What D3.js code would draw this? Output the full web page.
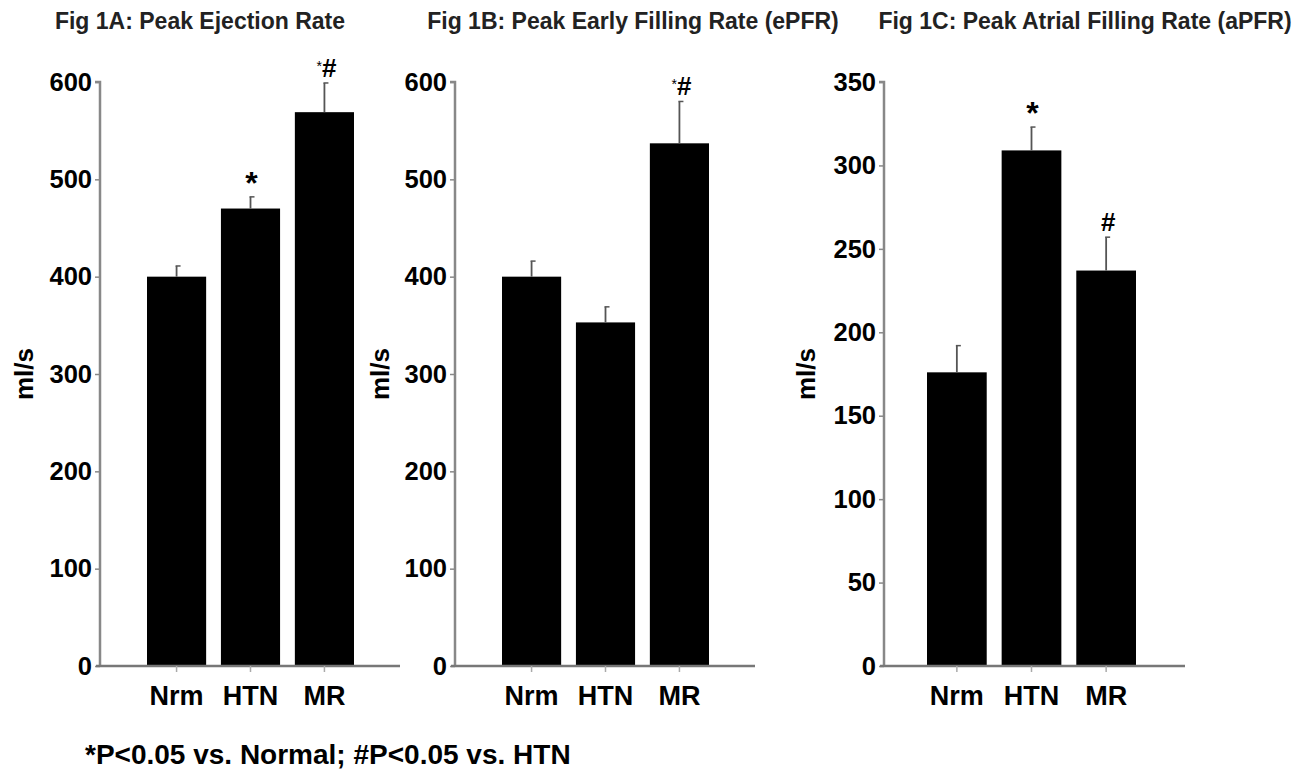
<!DOCTYPE html>
<html>
<head>
<style>
  body { margin: 0; background: #fff; }
  text { font-family: "Liberation Sans", Arial, sans-serif; font-weight: bold; }
</style>
</head>
<body>
<script src="https://d3js.org/d3.v7.min.js"></script>
<script>

const groups = ['Nrm', 'HTN', 'MR'];

const titles = [
  'Fig 1A: Peak Ejection Rate',
  'Fig 1B: Peak Early Filling Rate (ePFR)',
  'Fig 1C: Peak Atrial Filling Rate (aPFR)'
];

const means = [
  [400, 470, 569],
  [400, 353, 537],
  [176, 309, 237]
];

const errTops = [
  [411, 482, 599],
  [416, 369, 580],
  [192, 323, 257]
];

// significance marks above each bar
const stars = [
  ['', '*', '*'],
  ['', '', '*'],
  ['', '*', '']
];
const hashes = [
  ['', '', '#'],
  ['', '', '#'],
  ['', '', '#']
];

const yMax = [600, 600, 350];
const yTicks = [
  [0, 100, 200, 300, 400, 500, 600],
  [0, 100, 200, 300, 400, 500, 600],
  [0, 50, 100, 150, 200, 250, 300, 350]
];

const width = 1300;
const height = 769;

const svg = d3.select('body')
              .append('svg')
              .attr('width', width)
              .attr('height', height);

// panel layout
const panels = [
  { ax: 100, x0: 147, x1: 354, xEnd: 400, titleX: 200, labelX: 24 },
  { ax: 455, x0: 502, x1: 709, xEnd: 755, titleX: 633, labelX: 380 },
  { ax: 884, x0: 927, x1: 1136, xEnd: 1185, titleX: 1085, labelX: 806 }
];

const yTop = 82;
const yBase = 666;

panels.forEach((p, i) => {
  const g = svg.append('g');

  const x = d3.scaleBand()
              .domain(groups)
              .range([p.x0, p.x1])
              .paddingInner(0.2)
              .paddingOuter(0);

  const y = d3.scaleLinear()
              .domain([0, yMax[i]])
              .range([yBase, yTop]);

  const cx = d => x(d) + x.bandwidth() / 2;

  // title
  g.append('text')
   .attr('x', p.titleX)
   .attr('y', 29)
   .attr('text-anchor', 'middle')
   .attr('font-size', 23)
   .attr('fill', '#222')
   .text(titles[i]);

  // y axis
  const yAxis = g.append('g')
                 .attr('transform', `translate(${p.ax},0)`)
                 .call(d3.axisLeft(y).tickValues(yTicks[i]).tickSize(5).tickPadding(3));
  yAxis.select('.domain').attr('stroke', '#888').attr('stroke-width', 2.5)
       .attr('d', `M-5,${yTop}H0V${yBase}`);
  yAxis.selectAll('.tick line').attr('stroke', '#888').attr('stroke-width', 1.5);
  yAxis.selectAll('.tick text')
       .attr('font-size', 25.5)
       .attr('font-family', '"Liberation Sans", Arial, sans-serif')
       .attr('font-weight', 'bold')
       .attr('fill', '#000');

  // bars
  g.selectAll('rect.bar')
   .data(groups)
   .enter()
   .append('rect')
   .attr('class', 'bar')
   .attr('x', d => x(d))
   .attr('width', x.bandwidth())
   .attr('y', (d, j) => y(means[i][j]))
   .attr('height', (d, j) => yBase - y(means[i][j]))
   .attr('fill', '#000');

  // error bars (upper only)
  g.selectAll('line.err')
   .data(groups)
   .enter()
   .append('line')
   .attr('class', 'err')
   .attr('x1', cx)
   .attr('x2', cx)
   .attr('y1', (d, j) => y(means[i][j]))
   .attr('y2', (d, j) => y(errTops[i][j]))
   .attr('stroke', '#555')
   .attr('stroke-width', 1.8);

  g.selectAll('line.cap')
   .data(groups)
   .enter()
   .append('line')
   .attr('class', 'cap')
   .attr('x1', d => cx(d) - 1)
   .attr('x2', d => cx(d) + 4)
   .attr('y1', (d, j) => y(errTops[i][j]))
   .attr('y2', (d, j) => y(errTops[i][j]))
   .attr('stroke', '#555')
   .attr('stroke-width', 1.5);

  // significance marks
  groups.forEach((d, j) => {
    const top = y(errTops[i][j]);
    if (hashes[i][j]) {
      const t = g.append('text')
                 .attr('x', cx(d) + 2)
                 .attr('y', top - 6)
                 .attr('text-anchor', 'middle')
                 .attr('fill', '#000');
      if (stars[i][j]) {
        t.append('tspan').attr('font-size', 14).attr('font-weight', 'normal').attr('dy', -6).text(stars[i][j]);
        t.append('tspan').attr('font-size', 26).attr('dy', 6).text(hashes[i][j]);
      } else {
        t.append('tspan').attr('font-size', 26).text(hashes[i][j]);
      }
    } else if (stars[i][j]) {
      g.append('text')
       .attr('x', cx(d) + 1)
       .attr('y', top - 3)
       .attr('text-anchor', 'middle')
       .attr('font-size', 32)
       .attr('fill', '#000')
       .text(stars[i][j]);
    }
  });

  // x axis
  const xAxis = g.append('g')
                 .attr('transform', `translate(0,${yBase})`)
                 .call(d3.axisBottom(x).tickSize(6).tickPadding(14));
  xAxis.select('.domain').attr('stroke', '#777').attr('stroke-width', 2.5)
       .attr('d', `M${p.ax - 4},0H${p.xEnd}`);
  xAxis.selectAll('.tick line').attr('stroke', '#aaa').attr('stroke-width', 1.5);
  xAxis.selectAll('.tick text')
       .attr('font-size', 27)
       .attr('font-family', '"Liberation Sans", Arial, sans-serif')
       .attr('font-weight', 'bold')
       .attr('fill', '#000');

  // y label
  g.append('text')
   .attr('transform', `translate(${p.labelX + 9},374) rotate(-90)`)
   .attr('text-anchor', 'middle')
   .attr('font-size', 26)
   .attr('fill', '#000')
   .text('ml/s');
});

svg.append('text')
   .attr('x', 85)
   .attr('y', 764)
   .attr('font-size', 28)
   .attr('fill', '#000')
   .text('*P<0.05 vs. Normal; #P<0.05 vs. HTN');

</script>
</body>
</html>
